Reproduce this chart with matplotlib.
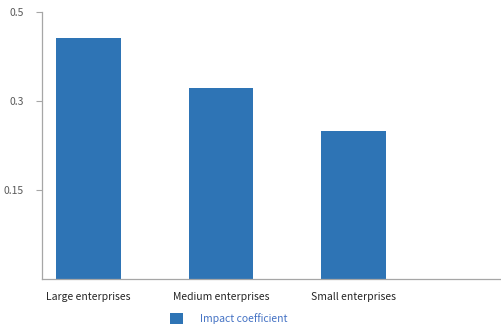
import numpy as np
import matplotlib
matplotlib.use("Agg")
import matplotlib.pyplot as plt

# data
categories = ["Large enterprises", "Medium enterprises", "Small enterprises"]
impact = [0.407, 0.322, 0.249]
series_name = "Impact coefficient"
ytick_vals = [0.15, 0.3, 0.45]
ytick_labels = ["0.15", "0.3", "0.5"]

bar_color = "#2E74B5"
axis_color = "#A6A6A6"
text_color = "#595959"

plt.rcParams['font.family'] = ['Noto Sans CJK SC', 'DejaVu Sans']

fig = plt.figure(figsize=(5.02, 3.27), dpi=100)
ax = fig.add_axes([42 / 502, 48 / 327, 459 / 502, 267 / 327])

x = np.arange(len(categories))
bars = ax.bar(x, impact, width=0.49, color=bar_color, label=series_name)

ax.set_xlim(-0.351, 3.113)
ax.set_ylim(0, 0.45)
ax.set_yticks(ytick_vals)
ax.set_yticklabels(ytick_labels)
ax.set_xticks(x)
ax.set_xticklabels(categories)

for side in ['top', 'right']:
    ax.spines[side].set_visible(False)
for side in ['left', 'bottom']:
    ax.spines[side].set_color(axis_color)
    ax.spines[side].set_linewidth(0.9)

ax.tick_params(axis='y', length=4, width=0.8, color=axis_color, labelsize=7.5,
               labelcolor=text_color, pad=9)
ax.tick_params(axis='x', length=0, labelsize=7.5, labelcolor="#262626", pad=9)

leg = fig.legend(handles=[bars], labels=[series_name], loc='center',
                 bbox_to_anchor=(0.455, 0.026), frameon=False, fontsize=7.5,
                 handlelength=1.3, handleheight=1.3, handletextpad=1.6)
for t in leg.get_texts():
    t.set_color("#4472C4")

fig.savefig("out.png", dpi=100)
